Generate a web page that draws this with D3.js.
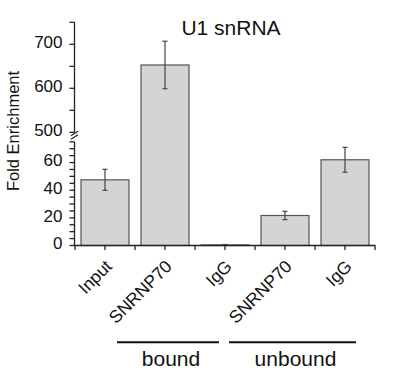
<!DOCTYPE html>
<html>
<head>
<meta charset="utf-8">
<script src="https://cdn.jsdelivr.net/npm/d3@7"></script>
<style>
  html, body { margin: 0; padding: 0; background: #fff; }
  svg { display: block; font-family: "Liberation Sans", Arial, Helvetica, sans-serif; }
</style>
</head>
<body>
<svg id="chart" width="393" height="382"></svg>
<script>
// ---- data ----
const categories = ["Input", "SNRNP70", "IgG", "SNRNP70 ", "IgG "];
const labels = ["Input", "SNRNP70", "IgG", "SNRNP70", "IgG"];
const values = [47.5, 653, 0.4, 21.7, 62];
const errors = [7.6, 54, 0.3, 3.0, 9.0];
const lowerTicks = [0, 20, 40, 60];
const upperTicks = [500, 600, 700];
const groups = ["bound", "unbound"];
const groupFirst = ["SNRNP70", "SNRNP70 "];
const groupLast = ["IgG", "IgG "];

const title = "U1 snRNA";
const yTitle = "Fold Enrichment";

// ---- layout ----
const svg = d3.select("#chart");
const axisX = 74.5;
const axisY = 245.5;
const ink = "#222";

const x = d3.scaleBand().domain(categories).range([75, 375]).paddingInner(0.2).paddingOuter(0.1);
// broken (piecewise) y scale: 0-75 lower, 500-750 upper
const y = d3.scaleLinear().domain([0, 75, 500, 750]).range([axisY, 141.8, 132.3, 22.3]);

// title
svg.append("text").attr("x", 231).attr("y", 35).attr("text-anchor", "middle")
  .attr("font-size", 21).attr("fill", "#111").text(title);

// y title
svg.append("text").attr("transform", "translate(19,131) rotate(-90)")
  .attr("text-anchor", "middle").attr("font-size", 16.5).attr("fill", "#111").text(yTitle);

// bars
const bw = x.bandwidth();
svg.append("g").selectAll("rect").data(categories).join("rect")
  .attr("x", (d) => x(d)).attr("width", bw)
  .attr("y", (d, i) => y(values[i])).attr("height", (d, i) => axisY - y(values[i]))
  .attr("fill", "#d4d4d4").attr("stroke", "#555").attr("stroke-width", 1.2);

// error bars
const eg = svg.append("g").attr("stroke", "#444").attr("stroke-width", 1.2);
categories.forEach((c, i) => {
  const cx = x(c) + bw / 2;
  const y1 = y(values[i] + errors[i]), y2 = y(Math.max(0, values[i] - errors[i]));
  eg.append("line").attr("x1", cx).attr("x2", cx).attr("y1", y1).attr("y2", y2);
  eg.append("line").attr("x1", cx - 2.5).attr("x2", cx + 2.5).attr("y1", y1).attr("y2", y1);
  eg.append("line").attr("x1", cx - 2.5).attr("x2", cx + 2.5).attr("y1", y2).attr("y2", y2);
});

// y axis: upper segment
const upperMinor = d3.range(500, 751, 50);
const lowerMinor = d3.range(0, 76, 5);
const ax = svg.append("g").attr("stroke", ink).attr("stroke-width", 1.3);
ax.append("line").attr("x1", axisX).attr("x2", axisX).attr("y1", y(750)).attr("y2", y(500));
ax.append("line").attr("x1", axisX).attr("x2", axisX).attr("y1", y(76.5)).attr("y2", axisY);
upperMinor.concat(lowerMinor).forEach((v) => {
  ax.append("line").attr("x1", axisX - 5).attr("x2", axisX).attr("y1", y(v)).attr("y2", y(v));
});
// break marks
[0, 3.5].forEach((o) => {
  ax.append("line").attr("x1", axisX - 3.5).attr("x2", axisX + 3.5)
    .attr("y1", y(500) + 3.5 + o).attr("y2", y(500) - 1 + o);
});

// y tick labels
const tl = svg.append("g").attr("font-size", 17).attr("fill", "#111").attr("text-anchor", "end");
upperTicks.concat(lowerTicks).forEach((v) => {
  tl.append("text").attr("x", axisX - 12).attr("y", y(v) - 2).attr("dy", "0.35em").text(v);
});

// x axis
ax.append("line").attr("x1", axisX - 1).attr("x2", 375.5).attr("y1", axisY).attr("y2", axisY);
const pad = (x.step() - bw) / 2;
const xt = [];
categories.forEach((c) => { xt.push(x(c) - pad); xt.push(x(c) + bw / 2); });
xt.push(x(categories[categories.length - 1]) + bw + pad);
xt.forEach((t) => {
  ax.append("line").attr("x1", t).attr("x2", t).attr("y1", axisY).attr("y2", axisY + 4.5);
});

// x labels
const xl = svg.append("g").attr("font-size", 17.5).attr("fill", "#111").attr("text-anchor", "end");
categories.forEach((c, i) => {
  const cx = x(c) + bw / 2;
  xl.append("text").attr("transform", `translate(${cx + 8},${axisY + 22}) rotate(-45)`).text(labels[i]);
});

// group annotations
const gStart = [-48, -56];
const gEnd = [-6, 11];
groups.forEach((g, i) => {
  const x1 = x(groupFirst[i]) + bw / 2 + gStart[i];
  const x2 = x(groupLast[i]) + bw / 2 + gEnd[i];
  svg.append("line").attr("x1", x1).attr("x2", x2).attr("y1", 342.3).attr("y2", 342.3)
    .attr("stroke", "#111").attr("stroke-width", 2);
  svg.append("text").attr("x", (x1 + x2) / 2 + 3).attr("y", 366).attr("text-anchor", "middle")
    .attr("font-size", 21).attr("fill", "#111").text(g);
});
</script>
</body>
</html>
